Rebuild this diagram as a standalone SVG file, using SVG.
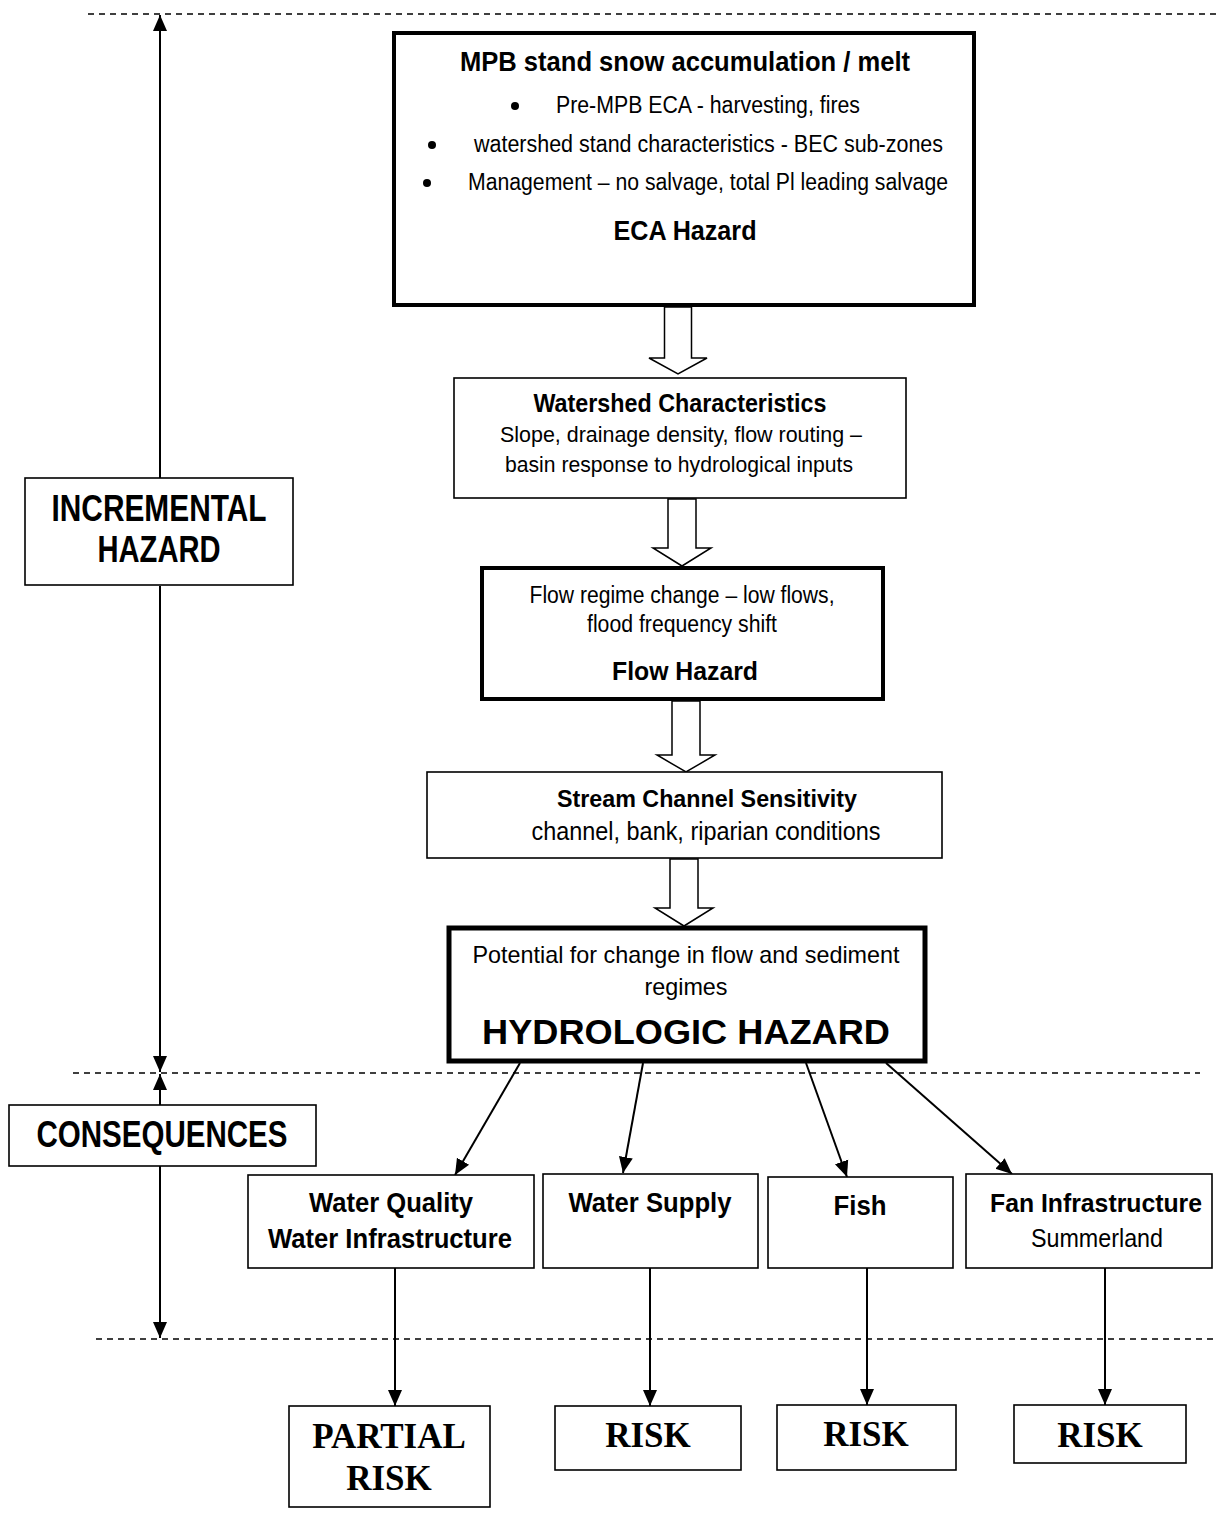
<svg xmlns="http://www.w3.org/2000/svg" width="1218" height="1515" viewBox="0 0 1218 1515">
<style>
text{font-family:"Liberation Sans Narrow","Liberation Sans",Arial,sans-serif;fill:#000}
.b{font-weight:bold}
.c{text-anchor:middle}
.tm{font-family:"Liberation Serif","Times New Roman",serif;font-weight:bold;font-size:35px;text-anchor:middle}
.box{fill:#fff;stroke:#000;stroke-width:1.6}
.thick{fill:#fff;stroke:#000;stroke-width:4}
.fat{fill:#fff;stroke:#000;stroke-width:1.5;stroke-linejoin:miter}
.dash{stroke:#000;stroke-width:1.6;stroke-dasharray:6 5;fill:none}
.ln{stroke:#000;stroke-width:2;fill:none}
</style>
<defs>
<marker id="ah" markerUnits="userSpaceOnUse" markerWidth="16" markerHeight="16" viewBox="0 0 16 16" refX="16" refY="8" orient="auto">
<path d="M0,1 L16,8 L0,15 Z" fill="#000"/>
</marker>
</defs>

<g id="guides">
<line class="dash" x1="88" y1="14" x2="1218" y2="14"/>
<line class="dash" x1="73" y1="1073" x2="1200" y2="1073"/>
<line class="dash" x1="96" y1="1339" x2="1218" y2="1339"/>
</g>

<g id="connectors">
<line class="ln" x1="160" y1="478" x2="160" y2="15" marker-end="url(#ah)"/>
<line class="ln" x1="160" y1="586" x2="160" y2="1072" marker-end="url(#ah)"/>
<line class="ln" x1="160" y1="1105" x2="160" y2="1074" marker-end="url(#ah)"/>
<line class="ln" x1="160" y1="1166" x2="160" y2="1338" marker-end="url(#ah)"/>
<polygon class="fat" points="664.5,307 691.5,307 691.5,358 707,358 678,374 649,358 664.5,358"/>
<polygon class="fat" points="668,499 696,499 696,548 711,548 682,566 653,548 668,548"/>
<polygon class="fat" points="672,701 700,701 700,755 715,755 686,772 657,755 672,755"/>
<polygon class="fat" points="670,859 698,859 698,908 713,908 684,926 655,908 670,908"/>
<line class="ln" x1="520" y1="1063" x2="455" y2="1175" marker-end="url(#ah)"/>
<line class="ln" x1="643" y1="1063" x2="623" y2="1173" marker-end="url(#ah)"/>
<line class="ln" x1="806" y1="1063" x2="847" y2="1177" marker-end="url(#ah)"/>
<line class="ln" x1="886" y1="1063" x2="1012" y2="1174" marker-end="url(#ah)"/>
<line class="ln" x1="395" y1="1268" x2="395" y2="1406" marker-end="url(#ah)"/>
<line class="ln" x1="650" y1="1268" x2="650" y2="1406" marker-end="url(#ah)"/>
<line class="ln" x1="867" y1="1268" x2="867" y2="1405" marker-end="url(#ah)"/>
<line class="ln" x1="1105" y1="1268" x2="1105" y2="1405" marker-end="url(#ah)"/>
</g>

<g id="incremental">
<rect class="box" x="25" y="478" width="268" height="107"/>
<text class="b c" x="159" y="521" font-size="36" textLength="215" lengthAdjust="spacingAndGlyphs">INCREMENTAL</text>
<text class="b c" x="159" y="562" font-size="36" textLength="123" lengthAdjust="spacingAndGlyphs">HAZARD</text>
</g>

<g id="consequences">
<rect class="box" x="9" y="1105" width="307" height="61"/>
<text class="b c" x="162" y="1147" font-size="36" textLength="251" lengthAdjust="spacingAndGlyphs">CONSEQUENCES</text>
</g>

<g id="eca">
<rect class="thick" x="394" y="33" width="580" height="272"/>
<text class="b c" x="685" y="71" font-size="27" textLength="450" lengthAdjust="spacingAndGlyphs">MPB stand snow accumulation / melt</text>
<circle cx="515" cy="106" r="4"/>
<text x="556" y="113" font-size="23" textLength="304" lengthAdjust="spacingAndGlyphs">Pre-MPB ECA - harvesting, fires</text>
<circle cx="432" cy="145" r="4"/>
<text x="474" y="152" font-size="23" textLength="469" lengthAdjust="spacingAndGlyphs">watershed stand characteristics  - BEC sub-zones</text>
<circle cx="427" cy="183" r="4"/>
<text x="468" y="190" font-size="23" textLength="480" lengthAdjust="spacingAndGlyphs">Management – no salvage, total Pl leading salvage</text>
<text class="b c" x="685" y="240" font-size="27" textLength="143" lengthAdjust="spacingAndGlyphs">ECA Hazard</text>
</g>

<g id="watershed">
<rect class="box" x="454" y="378" width="452" height="120"/>
<text class="b c" x="680" y="412" font-size="26" textLength="293" lengthAdjust="spacingAndGlyphs">Watershed Characteristics</text>
<text class="c" x="681" y="442" font-size="22" textLength="362" lengthAdjust="spacingAndGlyphs">Slope, drainage density, flow routing –</text>
<text class="c" x="679" y="472" font-size="22" textLength="348" lengthAdjust="spacingAndGlyphs">basin response to hydrological inputs</text>
</g>

<g id="flow">
<rect class="thick" x="482" y="568" width="401" height="131"/>
<text class="c" x="682" y="603" font-size="23" textLength="305" lengthAdjust="spacingAndGlyphs">Flow regime change – low flows,</text>
<text class="c" x="682" y="632" font-size="23" textLength="190" lengthAdjust="spacingAndGlyphs">flood frequency shift</text>
<text class="b c" x="685" y="680" font-size="26" textLength="146" lengthAdjust="spacingAndGlyphs">Flow Hazard</text>
</g>

<g id="stream">
<rect class="box" x="427" y="772" width="515" height="86"/>
<text class="b c" x="707" y="807" font-size="24" textLength="300" lengthAdjust="spacingAndGlyphs">Stream Channel Sensitivity</text>
<text class="c" x="706" y="840" font-size="25" textLength="349" lengthAdjust="spacingAndGlyphs">channel, bank, riparian conditions</text>
</g>

<g id="hydrologic">
<rect x="449" y="928" width="476" height="133" fill="#fff" stroke="#000" stroke-width="5"/>
<text class="c" x="686" y="963" font-size="24" textLength="427" lengthAdjust="spacingAndGlyphs">Potential for change in flow and sediment</text>
<text class="c" x="686" y="995" font-size="24" textLength="83" lengthAdjust="spacingAndGlyphs">regimes</text>
<text class="b c" x="686" y="1044" font-size="35" textLength="408" lengthAdjust="spacingAndGlyphs" style="font-family:'Liberation Sans',Arial,sans-serif">HYDROLOGIC HAZARD</text>
</g>

<g id="waterquality">
<rect class="box" x="248" y="1175" width="286" height="93"/>
<text class="b c" x="391" y="1212" font-size="28" textLength="164" lengthAdjust="spacingAndGlyphs">Water Quality</text>
<text class="b c" x="390" y="1248" font-size="28" textLength="244" lengthAdjust="spacingAndGlyphs">Water Infrastructure</text>
</g>

<g id="watersupply">
<rect class="box" x="543" y="1174" width="215" height="94"/>
<text class="b c" x="650" y="1212" font-size="28" textLength="163" lengthAdjust="spacingAndGlyphs">Water Supply</text>
</g>

<g id="fish">
<rect class="box" x="768" y="1177" width="185" height="91"/>
<text class="b c" x="860" y="1215" font-size="28" textLength="53" lengthAdjust="spacingAndGlyphs">Fish</text>
</g>

<g id="fan">
<rect class="box" x="966" y="1174" width="246" height="94"/>
<text class="b c" x="1096" y="1212" font-size="25" textLength="212" lengthAdjust="spacingAndGlyphs">Fan Infrastructure</text>
<text class="c" x="1097" y="1247" font-size="25" textLength="132" lengthAdjust="spacingAndGlyphs">Summerland</text>
</g>

<g id="partialrisk">
<rect class="box" x="289" y="1406" width="201" height="101"/>
<text class="tm" x="389" y="1448">PARTIAL</text>
<text class="tm" x="389" y="1490">RISK</text>
</g>

<g id="risk2">
<rect class="box" x="555" y="1406" width="186" height="64"/>
<text class="tm" x="648" y="1447">RISK</text>
</g>

<g id="risk3">
<rect class="box" x="777" y="1405" width="179" height="65"/>
<text class="tm" x="866" y="1446">RISK</text>
</g>

<g id="risk4">
<rect class="box" x="1014" y="1405" width="172" height="58"/>
<text class="tm" x="1100" y="1447">RISK</text>
</g>
</svg>
